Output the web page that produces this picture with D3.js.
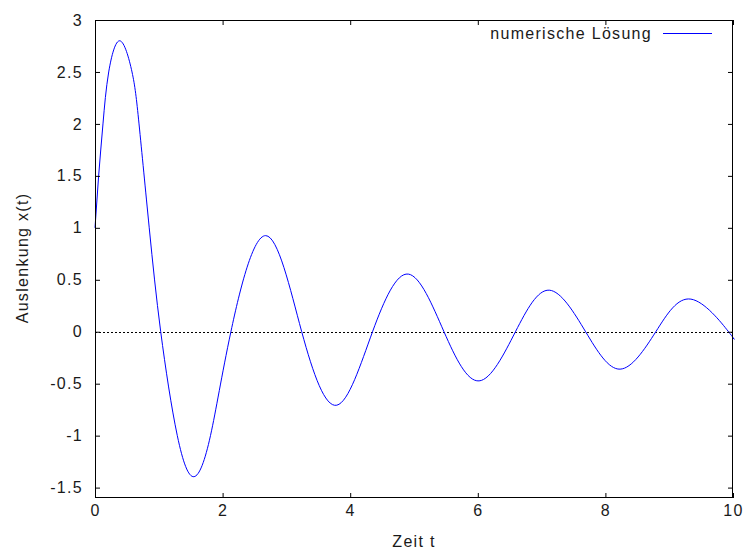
<!DOCTYPE html>
<html>
<head>
<meta charset="utf-8">
<script src="https://cdn.jsdelivr.net/npm/d3@7"></script>
<style>
    html, body { margin: 0; padding: 0; background: #fff; }
    svg text {
        font-family: "Liberation Sans", Arial, sans-serif;
        font-size: 16px;
        letter-spacing: 1.3px;
        fill: #1a1a1a;
    }
</style>
</head>
<body>
<div id="chart"></div>
<script>
// Zeitpunkte t (Extrema, Nulldurchgaenge, Anfangsstueck)
const zeit = [
    0, 0.057, 0.125, 0.215, 0.39, 0.58, 0.69, 0.85, 1.03,
    1.29, 1.55, 1.81, 2.13, 2.675, 3.24, 3.79, 4.35, 4.91, 5.47,
    6.02, 6.59, 7.12, 7.69, 8.23, 8.79, 9.34, 9.93, 10
];

// Auslenkung x(t), numerische Loesung
const auslenkung = [
    1.0, 1.5, 2.0, 2.5, 2.80, 2.5, 2.0, 1.0, 0,
    -1.0, -1.395, -1.0, 0, 0.925, 0, -0.707, 0, 0.555, 0,
    -0.473, 0, 0.40, 0, -0.36, 0, 0.314, 0, -0.06
];

// Achsenbeschriftungen
const xTicks = [0, 2, 4, 6, 8, 10];
const yTicks = [-1.5, -1, -0.5, 0, 0.5, 1, 1.5, 2, 2.5, 3];
const legendLabel = 'numerische Lösung';

const width = 748;
const height = 551;
const plot = { left: 95, right: 733, top: 20, bottom: 498 };

const svg = d3.select('#chart')
    .append('svg')
    .attr('width', width)
    .attr('height', height);

const x = d3.scaleLinear().domain([0, 10]).range([plot.left, plot.right]);
const y = d3.scaleLinear().domain([-1.6, 3]).range([plot.bottom, plot.top]);

const punkte = zeit.map((t, i) => ({ t, v: auslenkung[i] }));

// Nulllinie (gepunktet)
svg.append('line')
    .attr('x1', x(0)).attr('x2', x(10))
    .attr('y1', Math.round(y(0)) + 0.5).attr('y2', Math.round(y(0)) + 0.5)
    .attr('stroke', '#000')
    .attr('stroke-width', 1)
    .attr('stroke-dasharray', '2,2');

const line = d3.line()
    .x(d => x(d.t))
    .y(d => y(d.v))
    .curve(d3.curveNatural);

svg.append('path')
    .datum(punkte)
    .attr('d', line)
    .attr('fill', 'none')
    .attr('stroke', '#0000ff')
    .attr('stroke-width', 1);

// Achsen mit Ticks nach innen, gespiegelt oben und rechts
const tickLen = 5;
const fmt = d => String(d);

svg.append('g')
    .attr('transform', `translate(0,${plot.bottom})`)
    .call(d3.axisBottom(x).tickValues(xTicks).tickSize(-tickLen).tickPadding(7).tickFormat(fmt));
svg.append('g')
    .attr('transform', `translate(0,${plot.top})`)
    .call(d3.axisTop(x).tickValues(xTicks).tickSize(-tickLen).tickFormat(''));
svg.append('g')
    .attr('transform', `translate(${plot.left},0)`)
    .call(d3.axisLeft(y).tickValues(yTicks).tickSize(-tickLen).tickPadding(12).tickFormat(fmt));
svg.append('g')
    .attr('transform', `translate(${plot.right},0)`)
    .call(d3.axisRight(y).tickValues(yTicks).tickSize(-tickLen).tickFormat(''));

svg.selectAll('.domain').remove();
svg.selectAll('.tick line').attr('stroke', '#000');
svg.selectAll('.tick text')
    .attr('fill', '#1a1a1a')
    .style('font-size', '16px')
    .style('font-family', '"Liberation Sans", Arial, sans-serif');

// Rahmen
svg.append('rect')
    .attr('x', plot.left + 0.5)
    .attr('y', plot.top + 0.5)
    .attr('width', plot.right - plot.left - 1)
    .attr('height', plot.bottom - plot.top - 1)
    .attr('fill', 'none')
    .attr('stroke', '#000')
    .attr('stroke-width', 1);

// Achsentitel
svg.append('text')
    .attr('x', (plot.left + plot.right) / 2)
    .attr('y', 547)
    .attr('text-anchor', 'middle')
    .text('Zeit t');

svg.append('text')
    .attr('transform', 'translate(28,258) rotate(-90)')
    .attr('text-anchor', 'middle')
    .text('Auslenkung x(t)');

// Legende
svg.append('text')
    .attr('x', 652)
    .attr('y', 39)
    .attr('text-anchor', 'end')
    .text(legendLabel);

svg.append('line')
    .attr('x1', 663).attr('x2', 712)
    .attr('y1', 33.5).attr('y2', 33.5)
    .attr('stroke', '#0000ff')
    .attr('stroke-width', 1);
</script>
</body>
</html>
